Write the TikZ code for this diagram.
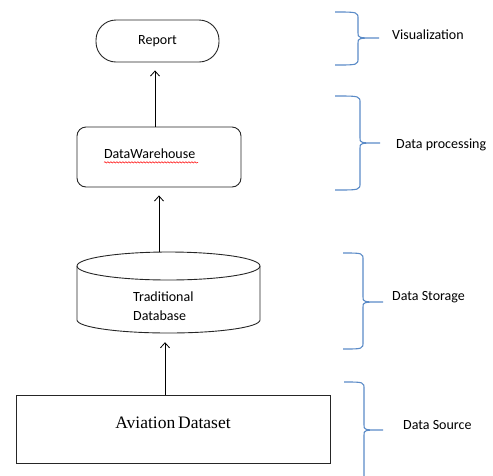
\documentclass[tikz,border=0pt]{standalone}
\usepackage{fontspec}
\setmainfont{Carlito}
\newfontfamily\timesfont{Liberation Serif}
\usetikzlibrary{arrows.meta,decorations.pathmorphing}
\definecolor{braceblue}{RGB}{91,139,199}
\tikzset{
  box/.style={draw=black!85, line width=0.9pt, inner sep=0pt},
  flow/.style={line width=0.8pt, -{Straight Barb[length=5pt,width=9pt]}},
  brc/.style={draw=braceblue, line width=1.1pt},
  lbl/.style={anchor=west, inner sep=0pt, font=\fontsize{14}{16}\selectfont},
  spell/.style={draw=red, line width=0.5pt, decorate,
    decoration={snake, amplitude=0.7pt, segment length=3pt}}
}
\begin{document}
\begin{tikzpicture}[x=1pt,y=1pt,font=\fontsize{14}{16}\selectfont]
                \useasboundingbox (0,0) rectangle (493,-475);

                % Report
                \node[box, rounded corners=20pt, minimum width=123pt, minimum height=42pt] (rep) at (157.5,-41) {Report};

                % Data warehouse
                \node[box, rounded corners=9pt, minimum height=60pt, text width=110pt, inner xsep=27pt,
                      align=left, text depth=6pt] (dw) at (159,-157) {DataWarehouse};
                \draw[spell] ([yshift=-3.5pt]dw.text) -- ++(94,0);

                % Cylinder for the database
                \node[minimum width=183pt, minimum height=81pt, inner sep=0pt] (db) at (168.5,-292.5) {};
                \draw[box] (77,-266) -- (77,-320) arc (180:360:91.5 and 13) -- (260,-266);
                \draw[box] (168.5,-266) ellipse (91.5 and 14);
                \node[anchor=west, inner sep=0pt, align=left, font=\fontsize{14}{19}\selectfont] (dbtxt) at (133,-306.5) {Traditional\\Database};

                % Aviation dataset
                \node[box, minimum width=314pt, minimum height=68pt] (data) at (173,-429)
                      {\timesfont\fontsize{17.5}{20}\selectfont\raisebox{1pt}[0pt][0pt]{Aviation\,Dataset}};

                % Arrows
                \draw[flow, shorten >=9pt] ([xshift=-8pt]data.north) -- ([xshift=-8pt]data.north |- db.south);
                \draw[flow, shorten >=8pt] (db.north -| dw.south) -- (dw.south);
                \draw[flow, shorten >=8pt] ([xshift=-4pt]dw.north) -- ([xshift=-4pt]dw.north |- rep.south);

                % Brace for visualization
                \draw[brc] (335,-12) .. controls (358,-12) .. (358,-19) -- (358,-33) .. controls (358,-38) .. (379,-38)
                      .. controls (358,-38) .. (358,-43) -- (358,-58) .. controls (358,-65) .. (335,-65);
                \node[lbl] (vis) at (392,-35) {Visualization};

                % Brace for data processing
                \draw[brc] (335,-96) .. controls (360,-96) .. (360,-103) -- (360,-138) .. controls (360,-143) .. (380,-143)
                      .. controls (360,-143) .. (360,-148) -- (360,-183) .. controls (360,-190) .. (335,-190);
                \node[lbl] (proc) at (396,-145) {Data processing};

                % Brace for data storage
                \draw[brc] (343,-253) .. controls (363,-253) .. (363,-260) -- (363,-297) .. controls (363,-302) .. (383,-302)
                      .. controls (363,-302) .. (363,-307) -- (363,-342) .. controls (363,-349) .. (343,-349);
                \node[lbl] (stor) at (392,-297) {Data Storage};

                % Brace for data source
                \draw[brc] (344,-382) .. controls (364,-382) .. (364,-389) -- (364,-425) .. controls (364,-430) .. (383,-430)
                      .. controls (364,-430) .. (364,-435) -- (364,-478);
                \node[lbl] (src) at (403,-425) {Data Source};
            \end{tikzpicture}
\end{document}
